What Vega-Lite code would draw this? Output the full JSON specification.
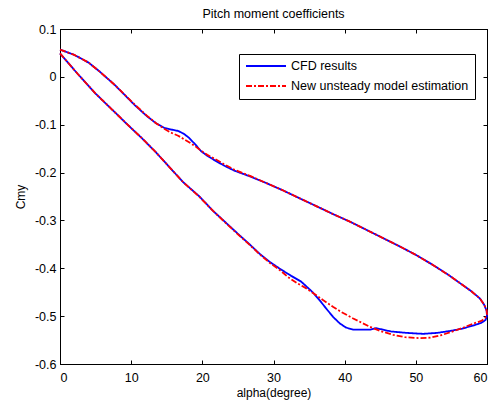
{
  "$schema": "https://vega.github.io/schema/vega-lite/v6.json",
  "width": 427,
  "height": 335,
  "autosize": {"type": "none"},
  "padding": {"left": 60, "top": 29, "right": 8, "bottom": 41},
  "background": "white",
  "title": {"text": "Pitch moment coefficients", "fontSize": 12.5, "fontWeight": "normal", "font": "Liberation Sans", "color": "black", "offset": 3},
  "data": {"values": [
    {"s": "CFD results", "i": 1, "a": 0, "c": 0.057},
    {"s": "CFD results", "i": 2, "a": 2, "c": 0.046},
    {"s": "CFD results", "i": 3, "a": 4, "c": 0.030},
    {"s": "CFD results", "i": 4, "a": 5.5, "c": 0.012},
    {"s": "CFD results", "i": 5, "a": 7.7, "c": -0.017},
    {"s": "CFD results", "i": 6, "a": 10.5, "c": -0.059},
    {"s": "CFD results", "i": 7, "a": 12.2, "c": -0.082},
    {"s": "CFD results", "i": 8, "a": 13.5, "c": -0.097},
    {"s": "CFD results", "i": 9, "a": 14.7, "c": -0.107},
    {"s": "CFD results", "i": 10, "a": 15.6, "c": -0.110},
    {"s": "CFD results", "i": 11, "a": 16.6, "c": -0.113},
    {"s": "CFD results", "i": 12, "a": 17.4, "c": -0.119},
    {"s": "CFD results", "i": 13, "a": 18.1, "c": -0.127},
    {"s": "CFD results", "i": 14, "a": 19, "c": -0.141},
    {"s": "CFD results", "i": 15, "a": 19.8, "c": -0.155},
    {"s": "CFD results", "i": 16, "a": 20.7, "c": -0.165},
    {"s": "CFD results", "i": 17, "a": 21.7, "c": -0.174},
    {"s": "CFD results", "i": 18, "a": 23, "c": -0.185},
    {"s": "CFD results", "i": 19, "a": 24.5, "c": -0.196},
    {"s": "CFD results", "i": 20, "a": 26.7, "c": -0.208},
    {"s": "CFD results", "i": 21, "a": 29, "c": -0.222},
    {"s": "CFD results", "i": 22, "a": 31.3, "c": -0.237},
    {"s": "CFD results", "i": 23, "a": 33.7, "c": -0.254},
    {"s": "CFD results", "i": 24, "a": 36, "c": -0.270},
    {"s": "CFD results", "i": 25, "a": 38.4, "c": -0.287},
    {"s": "CFD results", "i": 26, "a": 40.8, "c": -0.303},
    {"s": "CFD results", "i": 27, "a": 43.1, "c": -0.320},
    {"s": "CFD results", "i": 28, "a": 45.4, "c": -0.337},
    {"s": "CFD results", "i": 29, "a": 47.7, "c": -0.354},
    {"s": "CFD results", "i": 30, "a": 50, "c": -0.372},
    {"s": "CFD results", "i": 31, "a": 52.4, "c": -0.393},
    {"s": "CFD results", "i": 32, "a": 54.5, "c": -0.413},
    {"s": "CFD results", "i": 33, "a": 56.2, "c": -0.431},
    {"s": "CFD results", "i": 34, "a": 57.8, "c": -0.448},
    {"s": "CFD results", "i": 35, "a": 59.0, "c": -0.463},
    {"s": "CFD results", "i": 36, "a": 59.6, "c": -0.476},
    {"s": "CFD results", "i": 37, "a": 59.95, "c": -0.489},
    {"s": "CFD results", "i": 38, "a": 60, "c": -0.500},
    {"s": "CFD results", "i": 39, "a": 59.8, "c": -0.508},
    {"s": "CFD results", "i": 40, "a": 59.2, "c": -0.514},
    {"s": "CFD results", "i": 41, "a": 58.0, "c": -0.520},
    {"s": "CFD results", "i": 42, "a": 56.5, "c": -0.526},
    {"s": "CFD results", "i": 43, "a": 55.2, "c": -0.530},
    {"s": "CFD results", "i": 44, "a": 53, "c": -0.535},
    {"s": "CFD results", "i": 45, "a": 51, "c": -0.537},
    {"s": "CFD results", "i": 46, "a": 48.7, "c": -0.535},
    {"s": "CFD results", "i": 47, "a": 46.5, "c": -0.532},
    {"s": "CFD results", "i": 48, "a": 45, "c": -0.527},
    {"s": "CFD results", "i": 49, "a": 44.4, "c": -0.525},
    {"s": "CFD results", "i": 50, "a": 43.6, "c": -0.528},
    {"s": "CFD results", "i": 51, "a": 41.2, "c": -0.528},
    {"s": "CFD results", "i": 52, "a": 40.2, "c": -0.524},
    {"s": "CFD results", "i": 53, "a": 39.3, "c": -0.515},
    {"s": "CFD results", "i": 54, "a": 38.4, "c": -0.502},
    {"s": "CFD results", "i": 55, "a": 37.4, "c": -0.484},
    {"s": "CFD results", "i": 56, "a": 36.5, "c": -0.467},
    {"s": "CFD results", "i": 57, "a": 35.5, "c": -0.450},
    {"s": "CFD results", "i": 58, "a": 33.9, "c": -0.428},
    {"s": "CFD results", "i": 59, "a": 32.5, "c": -0.416},
    {"s": "CFD results", "i": 60, "a": 31.0, "c": -0.402},
    {"s": "CFD results", "i": 61, "a": 29.5, "c": -0.387},
    {"s": "CFD results", "i": 62, "a": 28.0, "c": -0.369},
    {"s": "CFD results", "i": 63, "a": 26.5, "c": -0.348},
    {"s": "CFD results", "i": 64, "a": 25.0, "c": -0.328},
    {"s": "CFD results", "i": 65, "a": 23.4, "c": -0.306},
    {"s": "CFD results", "i": 66, "a": 21.5, "c": -0.280},
    {"s": "CFD results", "i": 67, "a": 19.6, "c": -0.250},
    {"s": "CFD results", "i": 68, "a": 17.3, "c": -0.220},
    {"s": "CFD results", "i": 69, "a": 15.4, "c": -0.189},
    {"s": "CFD results", "i": 70, "a": 13.5, "c": -0.158},
    {"s": "CFD results", "i": 71, "a": 11.5, "c": -0.128},
    {"s": "CFD results", "i": 72, "a": 9.5, "c": -0.100},
    {"s": "CFD results", "i": 73, "a": 7.5, "c": -0.071},
    {"s": "CFD results", "i": 74, "a": 5.0, "c": -0.035},
    {"s": "CFD results", "i": 75, "a": 2.5, "c": 0.006},
    {"s": "CFD results", "i": 76, "a": 0, "c": 0.049},
    {"s": "New unsteady model estimation", "i": 1, "a": 0, "c": 0.057},
    {"s": "New unsteady model estimation", "i": 2, "a": 2, "c": 0.046},
    {"s": "New unsteady model estimation", "i": 3, "a": 4, "c": 0.030},
    {"s": "New unsteady model estimation", "i": 4, "a": 5.5, "c": 0.012},
    {"s": "New unsteady model estimation", "i": 5, "a": 7.7, "c": -0.017},
    {"s": "New unsteady model estimation", "i": 6, "a": 10.5, "c": -0.058},
    {"s": "New unsteady model estimation", "i": 7, "a": 12.2, "c": -0.081},
    {"s": "New unsteady model estimation", "i": 8, "a": 13.5, "c": -0.097},
    {"s": "New unsteady model estimation", "i": 9, "a": 14.7, "c": -0.109},
    {"s": "New unsteady model estimation", "i": 10, "a": 15.5, "c": -0.116},
    {"s": "New unsteady model estimation", "i": 11, "a": 16.6, "c": -0.123},
    {"s": "New unsteady model estimation", "i": 12, "a": 17.4, "c": -0.130},
    {"s": "New unsteady model estimation", "i": 13, "a": 18.2, "c": -0.137},
    {"s": "New unsteady model estimation", "i": 14, "a": 19.0, "c": -0.145},
    {"s": "New unsteady model estimation", "i": 15, "a": 19.8, "c": -0.154},
    {"s": "New unsteady model estimation", "i": 16, "a": 20.7, "c": -0.163},
    {"s": "New unsteady model estimation", "i": 17, "a": 21.7, "c": -0.171},
    {"s": "New unsteady model estimation", "i": 18, "a": 23, "c": -0.182},
    {"s": "New unsteady model estimation", "i": 19, "a": 24.5, "c": -0.194},
    {"s": "New unsteady model estimation", "i": 20, "a": 26.7, "c": -0.207},
    {"s": "New unsteady model estimation", "i": 21, "a": 29, "c": -0.222},
    {"s": "New unsteady model estimation", "i": 22, "a": 31.3, "c": -0.237},
    {"s": "New unsteady model estimation", "i": 23, "a": 33.7, "c": -0.254},
    {"s": "New unsteady model estimation", "i": 24, "a": 36, "c": -0.270},
    {"s": "New unsteady model estimation", "i": 25, "a": 38.4, "c": -0.287},
    {"s": "New unsteady model estimation", "i": 26, "a": 40.8, "c": -0.303},
    {"s": "New unsteady model estimation", "i": 27, "a": 43.1, "c": -0.320},
    {"s": "New unsteady model estimation", "i": 28, "a": 45.4, "c": -0.337},
    {"s": "New unsteady model estimation", "i": 29, "a": 47.7, "c": -0.354},
    {"s": "New unsteady model estimation", "i": 30, "a": 50, "c": -0.372},
    {"s": "New unsteady model estimation", "i": 31, "a": 52.4, "c": -0.393},
    {"s": "New unsteady model estimation", "i": 32, "a": 54.5, "c": -0.413},
    {"s": "New unsteady model estimation", "i": 33, "a": 56.2, "c": -0.431},
    {"s": "New unsteady model estimation", "i": 34, "a": 57.8, "c": -0.448},
    {"s": "New unsteady model estimation", "i": 35, "a": 59.0, "c": -0.463},
    {"s": "New unsteady model estimation", "i": 36, "a": 59.6, "c": -0.476},
    {"s": "New unsteady model estimation", "i": 37, "a": 59.95, "c": -0.488},
    {"s": "New unsteady model estimation", "i": 38, "a": 60, "c": -0.497},
    {"s": "New unsteady model estimation", "i": 39, "a": 59.7, "c": -0.505},
    {"s": "New unsteady model estimation", "i": 40, "a": 59.2, "c": -0.510},
    {"s": "New unsteady model estimation", "i": 41, "a": 58.0, "c": -0.516},
    {"s": "New unsteady model estimation", "i": 42, "a": 56.5, "c": -0.525},
    {"s": "New unsteady model estimation", "i": 43, "a": 55.2, "c": -0.532},
    {"s": "New unsteady model estimation", "i": 44, "a": 53.5, "c": -0.540},
    {"s": "New unsteady model estimation", "i": 45, "a": 52, "c": -0.545},
    {"s": "New unsteady model estimation", "i": 46, "a": 50.5, "c": -0.546},
    {"s": "New unsteady model estimation", "i": 47, "a": 48.5, "c": -0.544},
    {"s": "New unsteady model estimation", "i": 48, "a": 46.8, "c": -0.539},
    {"s": "New unsteady model estimation", "i": 49, "a": 45, "c": -0.531},
    {"s": "New unsteady model estimation", "i": 50, "a": 43.5, "c": -0.522},
    {"s": "New unsteady model estimation", "i": 51, "a": 42.3, "c": -0.513},
    {"s": "New unsteady model estimation", "i": 52, "a": 41.2, "c": -0.505},
    {"s": "New unsteady model estimation", "i": 53, "a": 39.5, "c": -0.491},
    {"s": "New unsteady model estimation", "i": 54, "a": 38.4, "c": -0.481},
    {"s": "New unsteady model estimation", "i": 55, "a": 37, "c": -0.467},
    {"s": "New unsteady model estimation", "i": 56, "a": 35.7, "c": -0.453},
    {"s": "New unsteady model estimation", "i": 57, "a": 34.5, "c": -0.441},
    {"s": "New unsteady model estimation", "i": 58, "a": 33.3, "c": -0.431},
    {"s": "New unsteady model estimation", "i": 59, "a": 32, "c": -0.418},
    {"s": "New unsteady model estimation", "i": 60, "a": 31.0, "c": -0.405},
    {"s": "New unsteady model estimation", "i": 61, "a": 29.5, "c": -0.389},
    {"s": "New unsteady model estimation", "i": 62, "a": 28.0, "c": -0.370},
    {"s": "New unsteady model estimation", "i": 63, "a": 26.5, "c": -0.349},
    {"s": "New unsteady model estimation", "i": 64, "a": 25.0, "c": -0.329},
    {"s": "New unsteady model estimation", "i": 65, "a": 23.4, "c": -0.307},
    {"s": "New unsteady model estimation", "i": 66, "a": 21.5, "c": -0.280},
    {"s": "New unsteady model estimation", "i": 67, "a": 19.6, "c": -0.251},
    {"s": "New unsteady model estimation", "i": 68, "a": 17.3, "c": -0.220},
    {"s": "New unsteady model estimation", "i": 69, "a": 15.4, "c": -0.189},
    {"s": "New unsteady model estimation", "i": 70, "a": 13.5, "c": -0.158},
    {"s": "New unsteady model estimation", "i": 71, "a": 11.5, "c": -0.128},
    {"s": "New unsteady model estimation", "i": 72, "a": 9.5, "c": -0.100},
    {"s": "New unsteady model estimation", "i": 73, "a": 7.5, "c": -0.071},
    {"s": "New unsteady model estimation", "i": 74, "a": 5.0, "c": -0.035},
    {"s": "New unsteady model estimation", "i": 75, "a": 2.5, "c": 0.006},
    {"s": "New unsteady model estimation", "i": 76, "a": 0, "c": 0.049}
  ]},
  "layer": [
    {
      "transform": [{"filter": "datum.s == 'CFD results'"}],
      "mark": {"type": "line", "strokeWidth": 1.8, "strokeJoin": "round"},
      "encoding": {
        "x": {"field": "a", "type": "quantitative", "scale": {"domain": [0, 60], "nice": false, "zero": false},
          "axis": {"orient": "bottom", "values": [0, 10, 20, 30, 40, 50, 60], "tickSize": -4, "labelPadding": 11, "title": "alpha(degree)", "titlePadding": 4, "titleFontSize": 12}},
        "y": {"field": "c", "type": "quantitative", "scale": {"domain": [-0.6, 0.1], "nice": false, "zero": false},
          "axis": {"orient": "left", "values": [-0.6, -0.5, -0.4, -0.3, -0.2, -0.1, 0, 0.1], "tickSize": -4, "labelPadding": 8, "labelExpr": "replace(format(datum.value, '~g'), '\u2212', '-')", "title": "Cmy", "titlePadding": 7, "titleFontSize": 12}},
        "color": {"field": "s", "type": "nominal", "title": null,
          "scale": {"domain": ["CFD results", "New unsteady model estimation"], "range": ["#0000ff", "#ff0000"]}},
        "strokeDash": {"field": "s", "type": "nominal", "title": null,
          "scale": {"domain": ["CFD results", "New unsteady model estimation"], "range": [[1, 0], [6, 2, 2, 2]]}},
        "order": {"field": "i", "type": "quantitative"}
      }
    },
    {
      "transform": [{"filter": "datum.s == 'New unsteady model estimation'"}],
      "mark": {"type": "line", "strokeWidth": 1.8, "strokeJoin": "round"},
      "encoding": {
        "x": {"field": "a", "type": "quantitative",
          "axis": {"orient": "top", "values": [0, 10, 20, 30, 40, 50, 60], "tickSize": -4, "labels": false, "title": null}},
        "y": {"field": "c", "type": "quantitative",
          "axis": {"orient": "right", "values": [-0.6, -0.5, -0.4, -0.3, -0.2, -0.1, 0, 0.1], "tickSize": -4, "labels": false, "title": null}},
        "color": {"field": "s", "type": "nominal", "title": null},
        "strokeDash": {"field": "s", "type": "nominal", "title": null},
        "order": {"field": "i", "type": "quantitative"}
      }
    }
  ],
  "resolve": {"axis": {"x": "independent", "y": "independent"}},
  "config": {
    "view": {"stroke": "black", "strokeWidth": 1},
    "axis": {
      "grid": false,
      "domainColor": "black",
      "tickColor": "black",
      "labelColor": "black",
      "titleColor": "black",
      "labelFont": "Liberation Sans",
      "titleFont": "Liberation Sans",
      "labelFontSize": 12.5,
      "titleFontSize": 12.5,
      "titleFontWeight": "normal"
    },
    "legend": {
      "orient": "none",
      "legendX": 179,
      "legendY": 25,
      "strokeColor": "black",
      "fillColor": "white",
      "padding": 6,
      "clipHeight": 12,
      "rowPadding": 7,
      "symbolType": "stroke",
      "symbolSize": 1600,
      "symbolStrokeWidth": 2,
      "labelFont": "Liberation Sans",
      "labelFontSize": 12.5,
      "labelColor": "black",
      "labelOffset": 4,
      "labelLimit": 300
    }
  }
}
